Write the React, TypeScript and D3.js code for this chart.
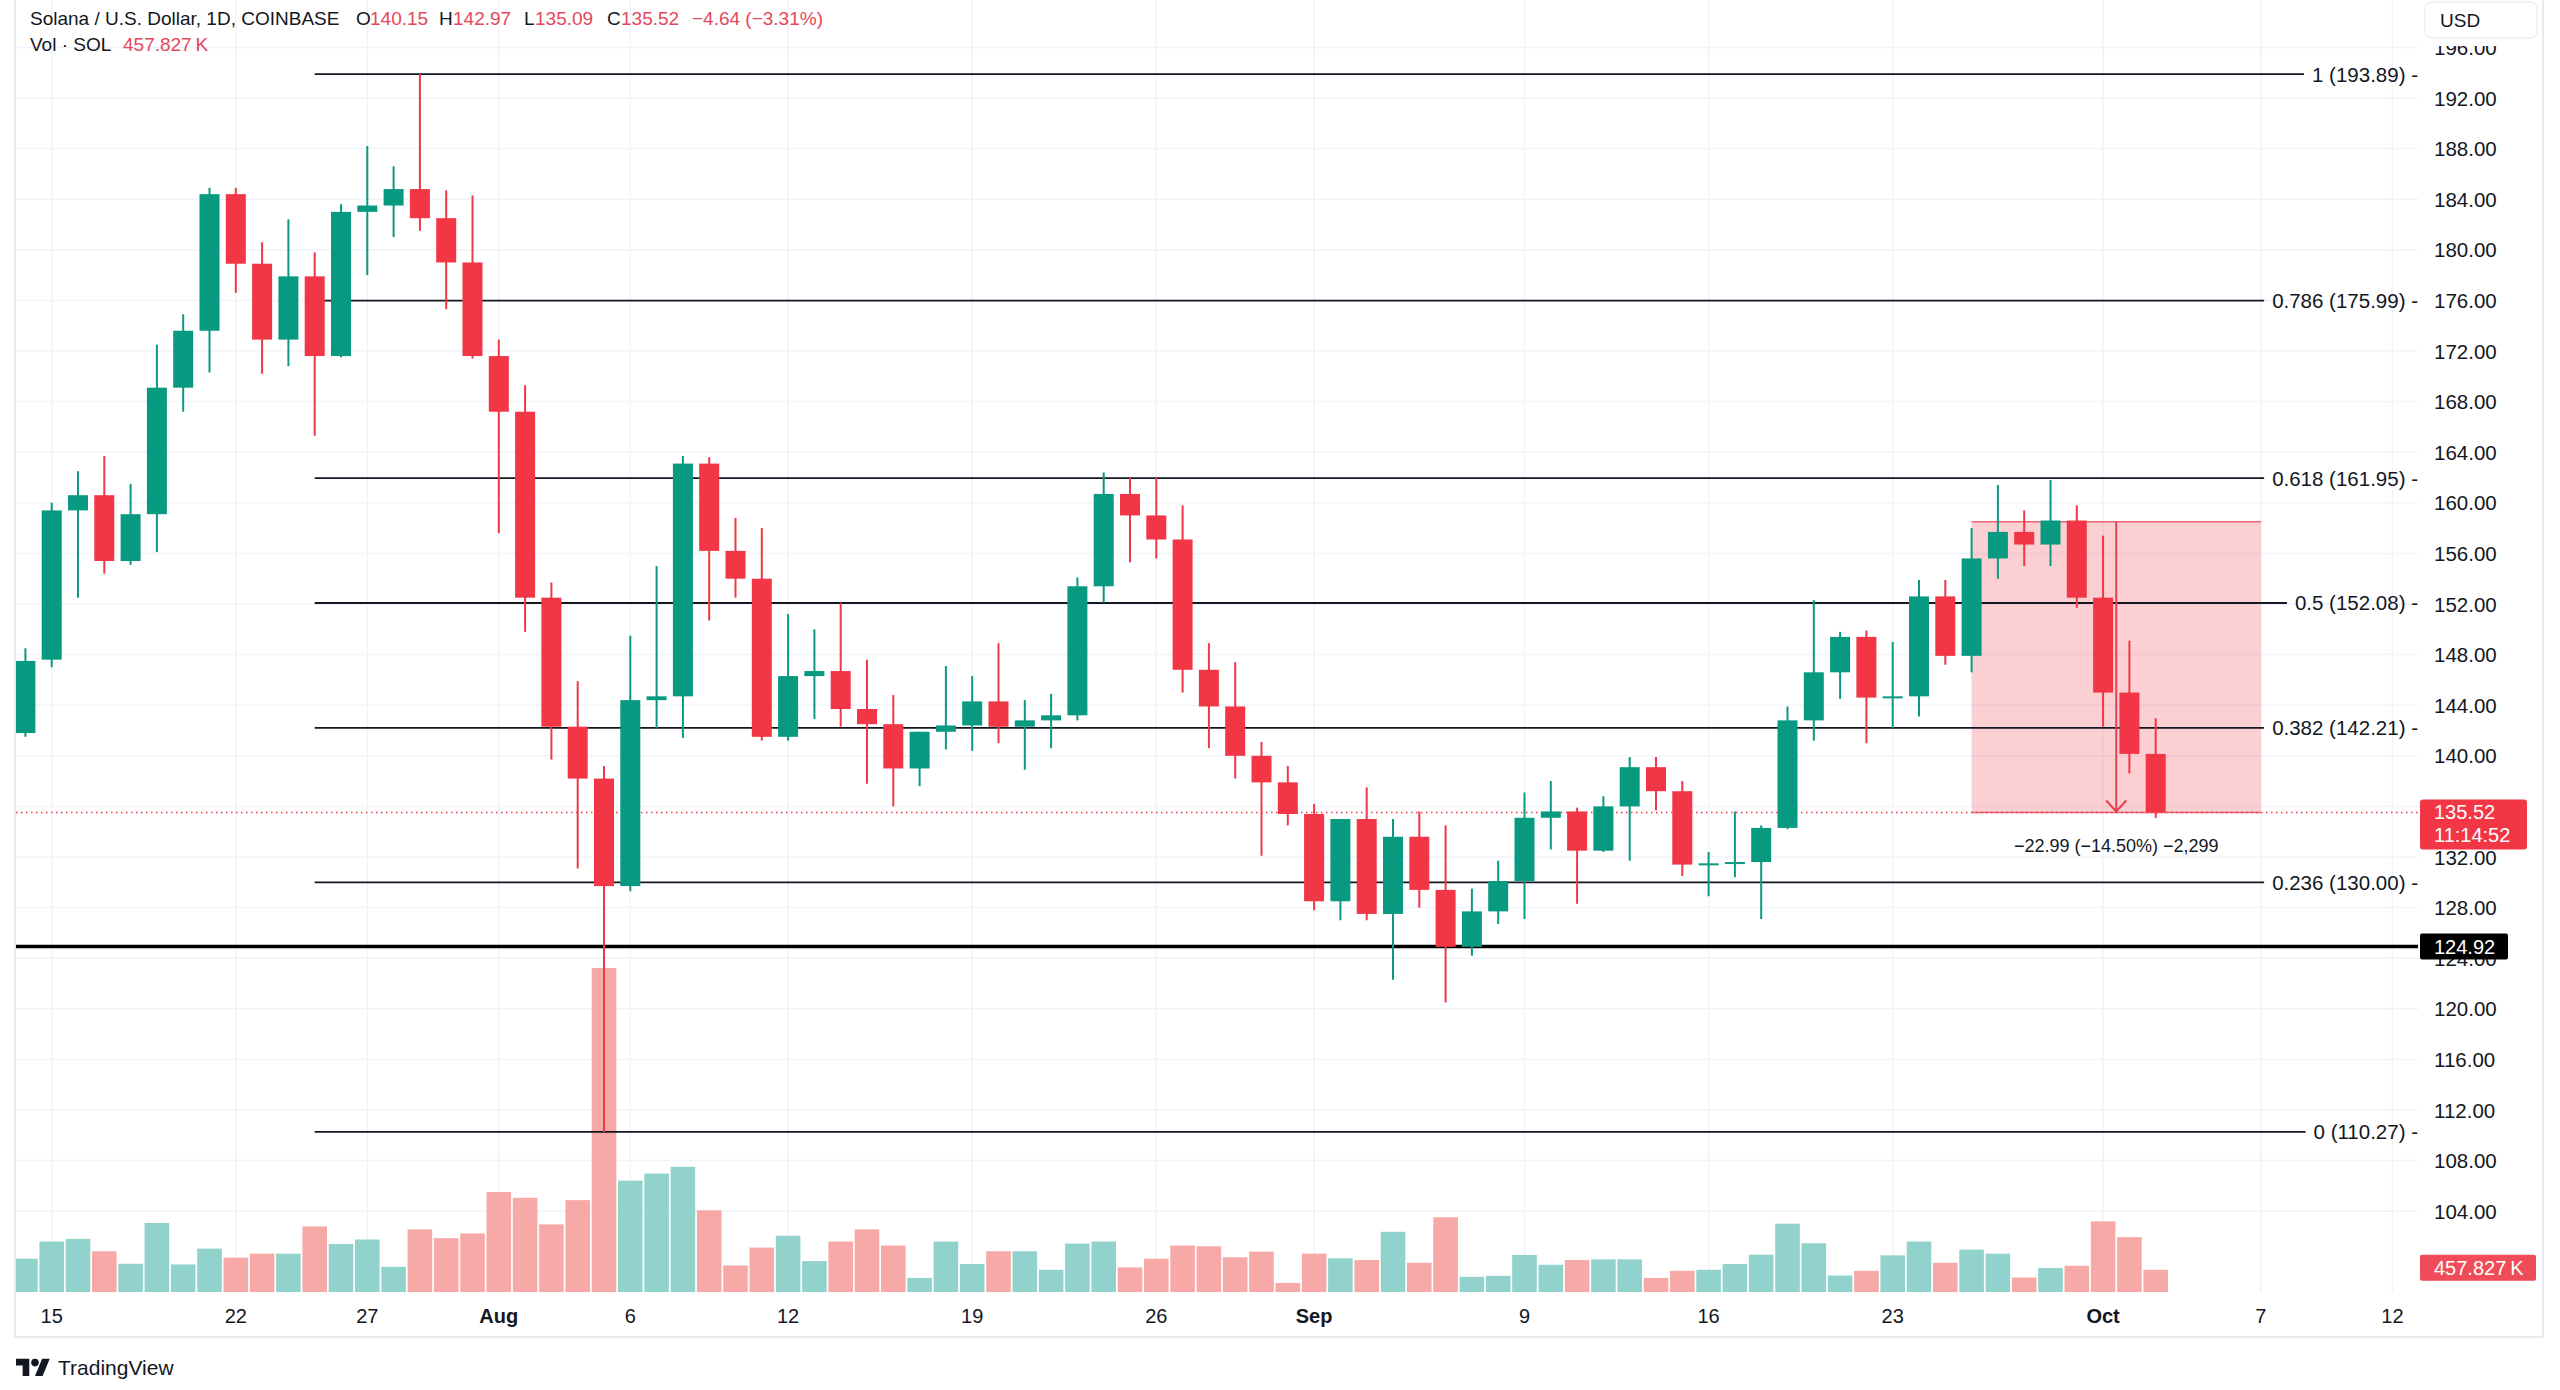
import React, { useEffect, useRef } from 'react';
import * as d3 from 'd3';

// ---------- DATA ----------
const firstDay = '2024-07-14';
const opens = [141.8, 147.6, 159.4, 160.6, 155.4, 159.1, 169.1, 173.6, 184.4, 178.9, 172.9, 177.9, 171.6, 183.0, 183.5, 184.8, 182.5, 179.0,
  171.6, 167.2, 152.5, 142.3, 138.2, 129.7, 144.4, 144.7, 163.1, 156.2, 154.0, 141.5, 146.3, 146.7, 143.7, 142.5, 139.0, 141.9, 142.4, 144.3, 142.3, 142.8, 143.2, 153.4, 160.7, 159.0, 157.1, 146.8, 143.9, 140.0, 137.9,
  135.4, 128.5, 135.0, 127.5, 133.6, 129.4, 124.9, 127.7, 130.1, 135.1, 135.6, 132.5, 136.0, 139.1, 137.2, 131.4, 131.5, 131.6, 134.3, 142.8, 146.6, 149.4, 144.6, 144.7, 152.6, 147.9, 155.6, 157.7, 156.7, 158.6,
  152.5, 145.0, 140.15];
const highs = [148.5, 160.0, 162.5, 163.7, 161.5, 172.5, 174.9, 184.9, 184.9, 180.6, 182.4, 179.8, 183.6, 188.2, 186.6, 193.89, 184.7, 184.3,
  172.9, 169.3, 153.7, 145.9, 139.2, 149.5, 155.0, 163.7, 163.6, 158.8, 158.0, 151.2, 150.0, 152.1, 147.6, 144.8, 141.9, 147.1, 146.3, 148.9, 144.4, 144.9, 154.1, 162.4, 162.0, 162.0, 159.8, 148.9, 147.4, 141.1, 139.2,
  136.2, 135.0, 137.5, 135.0, 135.6, 134.5, 129.5, 131.7, 137.1, 138.0, 135.9, 136.8, 139.9, 139.9, 138.0, 132.4, 135.6, 134.5, 143.9, 152.3, 149.8, 149.9, 149.0, 153.9, 153.9, 158.0, 161.4, 159.4, 161.8, 159.8,
  157.4, 149.1, 142.97];
const lows = [141.5, 147.0, 152.5, 154.4, 155.1, 156.1, 167.2, 170.3, 176.6, 170.2, 170.8, 165.3, 171.5, 178.0, 181.0, 181.5, 175.3, 171.4,
  157.6, 149.8, 139.7, 131.1, 110.27, 129.3, 142.2, 141.4, 150.7, 152.5, 141.2, 141.2, 142.9, 142.3, 137.8, 136.0, 137.6, 140.5, 140.4, 141.0, 138.9, 140.6, 142.8, 152.1, 155.3, 155.6, 145.0, 140.6, 138.2, 132.1, 134.5,
  127.8, 127.0, 127.0, 122.3, 128.0, 120.5, 124.2, 126.7, 127.1, 132.6, 128.3, 132.4, 131.7, 135.7, 130.5, 128.9, 130.4, 127.1, 134.2, 141.2, 144.5, 141.0, 142.2, 143.1, 147.2, 146.6, 154.0, 155.0, 155.0, 151.7,
  142.3, 138.6, 135.09];
const closes = [147.5, 159.4, 160.6, 155.4, 159.1, 169.1, 173.6, 184.4, 178.9, 172.9, 177.9, 171.6, 183.0, 183.5, 184.8, 182.5, 179.0, 171.6,
  167.2, 152.5, 142.3, 138.2, 129.7, 144.4, 144.7, 163.1, 156.2, 154.0, 141.5, 146.3, 146.7, 143.7, 142.5, 139.0, 141.9, 142.4, 144.3, 142.3, 142.8, 143.2, 153.4, 160.7, 159.0, 157.1, 146.8, 143.9, 140.0, 137.9, 135.4,
  128.5, 135.0, 127.5, 133.6, 129.4, 124.9, 127.7, 130.1, 135.1, 135.6, 132.5, 136.0, 139.1, 137.2, 131.4, 131.5, 131.6, 134.3, 142.8, 146.6, 149.4, 144.6, 144.7, 152.6, 147.9, 155.6, 157.7, 156.7, 158.6, 152.5,
  145.0, 140.15, 135.52];
// volume in thousands of SOL
const volumes = [687, 1041, 1096, 840, 583, 1423, 569, 895, 708, 791, 791, 1353, 992, 1083, 520, 1291, 1110, 1208,
  2061, 1943, 1395, 1895, 6683, 2297, 2443, 2582, 1686, 548, 916, 1159, 638, 1041, 1291, 958, 291, 1041, 576, 840, 840, 458, 999, 1041, 507, 687, 958, 944, 715, 833, 187,
  791, 694, 659, 1242, 604, 1541, 312, 333, 763, 562, 659, 673, 673, 291, 437, 458, 576, 770, 1409, 1006, 340, 437, 756, 1041, 604, 874, 791, 298, 493, 541,
  1457, 1131, 457.827];

// 136.00 sits under the last-price box in the reference, so it is not listed
const priceTicks = [104, 108, 112, 116, 120, 124, 128, 132, 140, 144, 148, 152, 156, 160, 164, 168, 172, 176, 180, 184, 188, 192, 196];
const timeTickDates = ['2024-07-15', '2024-07-22', '2024-07-27', '2024-08-01', '2024-08-06', '2024-08-12', '2024-08-19', '2024-08-26', '2024-09-01', '2024-09-09', '2024-09-16', '2024-09-23', '2024-10-01', '2024-10-07', '2024-10-12'];
const timeTickLabels = ['15', '22', '27', 'Aug', '6', '12', '19', '26', 'Sep', '9', '16', '23', 'Oct', '7', '12'];
const timeTickBold = [false, false, false, true, false, false, false, false, true, false, false, false, true, false, false];
const gridPrices = [104, 108, 112, 116, 120, 124, 128, 132, 136, 140, 144, 148, 152, 156, 160, 164, 168, 172, 176, 180, 184, 188, 192, 196];

const fibLevels = ['1', '0.786', '0.618', '0.5', '0.382', '0.236', '0'];
const fibPrices = [193.89, 175.99, 161.95, 152.08, 142.21, 130.0, 110.27];
const fibStartDate = '2024-07-25';

const supportPrice = 124.92;
const lastPrice = 135.52;
const changeAbs = -4.64;
const changePct = -3.31;
const countdown = '11:14:52';
const rangeTop = 158.51;
const rangeStartDate = '2024-09-26';
const rangeEndDate = '2024-10-07';
const rangeBars = 2299;

const UP = '#089981';
const DOWN = '#F23645';
const VOL_UP = '#92D2CC';
const VOL_DOWN = '#F7A9A7';
const TEXT = '#131722';
const RED_TEXT = '#E4475B';

export default function App() {
  const ref = useRef<SVGSVGElement | null>(null);

  useEffect(() => {
    const W = 2560, H = 1390;
    const FONT = '"Liberation Sans", Arial, Helvetica, sans-serif';
    const plotLeft = 16, plotRight = 2418, axisRight = 2543, volBase = 1292, frameBottom = 1337;

    const svg = d3.select(ref.current);
    svg.selectAll('*').remove();
    svg.attr('font-family', FONT);

    const parse = d3.utcParse('%Y-%m-%d');
    const day0 = parse(firstDay) as Date;
    const dates = opens.map((_, i) => d3.utcDay.offset(day0, i));

    const x = d3.scaleUtc()
      .domain([parse('2024-07-15') as Date, parse('2024-10-12') as Date])
      .range([51.7, 51.7 + 89 * 26.3]);
    const y = d3.scaleLinear().domain([104, 192]).range([98 + 88 * 12.65, 98]);
    const vy = d3.scaleLinear().domain([0, 6683]).range([volBase, 968]);

    svg.append('rect').attr('width', W).attr('height', H).attr('fill', '#fff');

    const defs = svg.append('defs');
    defs.append('clipPath').attr('id', 'plotClip').append('rect')
      .attr('x', plotLeft).attr('y', 0).attr('width', plotRight - plotLeft).attr('height', volBase);
    defs.append('clipPath').attr('id', 'axisClip').append('rect')
      .attr('x', plotRight).attr('y', 46).attr('width', axisRight - plotRight).attr('height', volBase - 46);

    // frame
    const frame = svg.append('g').attr('stroke', '#E0E3EB').attr('stroke-width', 1.5);
    frame.append('line').attr('x1', 15).attr('x2', 15).attr('y1', 0).attr('y2', frameBottom);
    frame.append('line').attr('x1', axisRight).attr('x2', axisRight).attr('y1', 0).attr('y2', frameBottom);
    frame.append('line').attr('x1', 15).attr('x2', axisRight).attr('y1', frameBottom).attr('y2', frameBottom);

    // grid
    const grid = svg.append('g').attr('clip-path', 'url(#plotClip)');
    grid.append('g').selectAll('line').data(gridPrices).join('line')
      .attr('x1', plotLeft).attr('x2', plotRight)
      .attr('y1', d => y(d)).attr('y2', d => y(d))
      .attr('stroke', '#F0F3FA').attr('stroke-width', 1.5);
    grid.append('g').selectAll('line').data(timeTickDates).join('line')
      .attr('x1', d => x(parse(d) as Date)).attr('x2', d => x(parse(d) as Date))
      .attr('y1', 0).attr('y2', volBase)
      .attr('stroke', '#F0F3FA').attr('stroke-width', 1.5);

    const plot = svg.append('g').attr('clip-path', 'url(#plotClip)');

    // volume
    const vw = 24.6;
    plot.append('g').selectAll('rect').data(volumes).join('rect')
      .attr('x', (_, i) => x(dates[i]) - vw / 2)
      .attr('width', vw)
      .attr('y', d => vy(d))
      .attr('height', d => volBase - vy(d))
      .attr('fill', (_, i) => (closes[i] >= opens[i] ? VOL_UP : VOL_DOWN));

    // range (short) box
    const rx0 = x(parse(rangeStartDate) as Date);
    const rx1 = x(parse(rangeEndDate) as Date);
    const ryTop = y(rangeTop), ryBot = y(lastPrice);
    plot.append('rect').attr('x', rx0).attr('y', ryTop).attr('width', rx1 - rx0).attr('height', ryBot - ryTop)
      .attr('fill', 'rgba(242,54,69,0.24)');
    plot.append('line').attr('x1', rx0).attr('x2', rx1).attr('y1', ryTop).attr('y2', ryTop)
      .attr('stroke', 'rgba(230,60,75,0.75)').attr('stroke-width', 1.5);
    plot.append('line').attr('x1', rx0).attr('x2', rx1).attr('y1', ryBot).attr('y2', ryBot)
      .attr('stroke', 'rgba(230,60,75,0.75)').attr('stroke-width', 1.5);

    // fib levels
    const fibG = plot.append('g');
    const fx0 = x(parse(fibStartDate) as Date);
    fibPrices.forEach((p, i) => {
      const t = fibG.append('text')
        .attr('x', plotRight).attr('y', y(p))
        .attr('text-anchor', 'end').attr('dominant-baseline', 'central')
        .attr('font-size', 20.5).attr('fill', TEXT)
        .text(`${fibLevels[i]} (${p.toFixed(2)}) -`);
      const len = (t.node() as SVGTextElement).getComputedTextLength();
      fibG.append('line')
        .attr('x1', fx0).attr('x2', plotRight - len - 8)
        .attr('y1', y(p)).attr('y2', y(p))
        .attr('stroke', TEXT).attr('stroke-width', 1.8);
    });

    // support line
    plot.append('line').attr('x1', plotLeft).attr('x2', plotRight + 4)
      .attr('y1', y(supportPrice)).attr('y2', y(supportPrice))
      .attr('stroke', '#000').attr('stroke-width', 3.6);

    // last price dotted line
    plot.append('line').attr('x1', plotLeft).attr('x2', plotRight)
      .attr('y1', y(lastPrice)).attr('y2', y(lastPrice))
      .attr('stroke', DOWN).attr('stroke-width', 1.4).attr('stroke-dasharray', '1.5,3.5');

    // candles
    const bw = 20;
    const cg = plot.append('g');
    const color = (i: number) => (closes[i] >= opens[i] ? UP : DOWN);
    cg.selectAll('line').data(dates).join('line')
      .attr('x1', d => x(d)).attr('x2', d => x(d))
      .attr('y1', (_, i) => y(highs[i])).attr('y2', (_, i) => y(lows[i]))
      .attr('stroke', (_, i) => color(i)).attr('stroke-width', 2);
    cg.selectAll('rect').data(dates).join('rect')
      .attr('x', d => x(d) - bw / 2).attr('width', bw)
      .attr('y', (_, i) => y(Math.max(opens[i], closes[i])))
      .attr('height', (_, i) => Math.max(2, Math.abs(y(opens[i]) - y(closes[i]))))
      .attr('fill', (_, i) => color(i));

    // arrow of range tool
    const ax = (rx0 + rx1) / 2;
    plot.append('line').attr('x1', ax).attr('x2', ax).attr('y1', ryTop).attr('y2', ryBot)
      .attr('stroke', '#E5404F').attr('stroke-width', 2);
    plot.append('polyline')
      .attr('points', `${ax - 10},${ryBot - 12} ${ax},${ryBot - 1} ${ax + 10},${ryBot - 12}`)
      .attr('fill', 'none').attr('stroke', '#E5404F').attr('stroke-width', 2);
    const diff = lastPrice - rangeTop;
    const pct = (diff / rangeTop) * 100;
    plot.append('text').attr('x', ax).attr('y', ryBot + 34)
      .attr('text-anchor', 'middle').attr('dominant-baseline', 'central')
      .attr('font-size', 18).attr('fill', TEXT)
      .text(`\u2212${Math.abs(diff).toFixed(2)} (\u2212${Math.abs(pct).toFixed(2)}%) \u2212${d3.format(',')(rangeBars)}`);

    // price axis labels
    const axisG = svg.append('g').attr('clip-path', 'url(#axisClip)');
    axisG.selectAll('text').data(priceTicks).join('text')
      .attr('x', 2434).attr('y', d => y(d))
      .attr('dominant-baseline', 'central')
      .attr('font-size', 20.5).attr('fill', TEXT)
      .text(d => d.toFixed(2));

    // price boxes
    const yl = y(lastPrice);
    svg.append('rect').attr('x', 2420).attr('y', yl - 13).attr('width', 107).attr('height', 50).attr('rx', 3).attr('fill', DOWN);
    svg.append('text').attr('x', 2434).attr('y', yl).attr('dominant-baseline', 'central')
      .attr('font-size', 20).attr('fill', '#fff').text(lastPrice.toFixed(2));
    svg.append('text').attr('x', 2434).attr('y', yl + 23).attr('dominant-baseline', 'central')
      .attr('font-size', 20).attr('fill', '#fff').text(countdown);

    const ys = y(supportPrice);
    svg.append('rect').attr('x', 2420).attr('y', ys - 13).attr('width', 88).attr('height', 26).attr('rx', 2).attr('fill', '#000');
    svg.append('text').attr('x', 2434).attr('y', ys).attr('dominant-baseline', 'central')
      .attr('font-size', 20).attr('fill', '#fff').text(supportPrice.toFixed(2));

    const lastVol = volumes[volumes.length - 1];
    const yv = vy(lastVol) - 2;
    svg.append('rect').attr('x', 2420).attr('y', yv - 13).attr('width', 116).attr('height', 26).attr('rx', 2).attr('fill', '#EF4B58');
    svg.append('text').attr('x', 2434).attr('y', yv).attr('dominant-baseline', 'central')
      .attr('font-size', 20).attr('fill', '#fff').text(`${lastVol.toFixed(3)}\u2009K`);

    // USD box
    svg.append('rect').attr('x', 2425).attr('y', 2).attr('width', 112).attr('height', 36).attr('rx', 6)
      .attr('fill', '#fff').attr('stroke', '#EEF0F4').attr('stroke-width', 1.5);
    svg.append('text').attr('x', 2440).attr('y', 20).attr('dominant-baseline', 'central')
      .attr('font-size', 19).attr('fill', TEXT).text('USD');

    // time axis
    svg.append('g').selectAll('text').data(timeTickDates).join('text')
      .attr('x', d => x(parse(d) as Date)).attr('y', 1316)
      .attr('text-anchor', 'middle').attr('dominant-baseline', 'central')
      .attr('font-size', 20).attr('fill', TEXT)
      .attr('font-weight', (_, i) => (timeTickBold[i] ? 'bold' : 'normal'))
      .text((_, i) => timeTickLabels[i]);

    // header legend
    const hdr = svg.append('g').attr('font-size', 19).attr('dominant-baseline', 'central');
    const n = opens.length - 1;
    hdr.append('text').attr('x', 30).attr('y', 18).attr('fill', TEXT).text('Solana / U.S. Dollar, 1D, COINBASE');
    const items: [string, number, string, number][] = [
      ['O', 356, opens[n].toFixed(2), 370],
      ['H', 439, highs[n].toFixed(2), 453],
      ['L', 524, lows[n].toFixed(2), 535],
      ['C', 607, closes[n].toFixed(2), 621],
    ];
    items.forEach(([k, kx, v, vx]) => {
      hdr.append('text').attr('x', kx).attr('y', 18).attr('fill', TEXT).text(k);
      hdr.append('text').attr('x', vx).attr('y', 18).attr('fill', RED_TEXT).text(v);
    });
    hdr.append('text').attr('x', 692).attr('y', 18).attr('fill', RED_TEXT)
      .text(`\u2212${Math.abs(changeAbs).toFixed(2)} (\u2212${Math.abs(changePct).toFixed(2)}%)`);
    hdr.append('text').attr('x', 30).attr('y', 44).attr('fill', TEXT).text('Vol \u00B7 SOL');
    hdr.append('text').attr('x', 123).attr('y', 44).attr('fill', RED_TEXT).text(`${lastVol.toFixed(3)}\u2009K`);

    // TradingView logo
    const logo = svg.append('g').attr('transform', 'translate(16,1355) scale(0.95)').attr('fill', TEXT);
    logo.append('path').attr('d', 'M14 22H7V11H0V4h14v18zM28 22h-8l7.5-18h8L28 22z');
    logo.append('circle').attr('cx', 20).attr('cy', 8).attr('r', 4);
    svg.append('text').attr('x', 58).attr('y', 1367).attr('dominant-baseline', 'central')
      .attr('font-size', 21).attr('fill', TEXT).text('TradingView');
  }, []);

  return (
    <div style={{ position: 'absolute', left: 0, top: 0, width: 2560, height: 1390 }}>
      <svg ref={ref} width={2560} height={1390} style={{ display: 'block' }} />
    </div>
  );
}
